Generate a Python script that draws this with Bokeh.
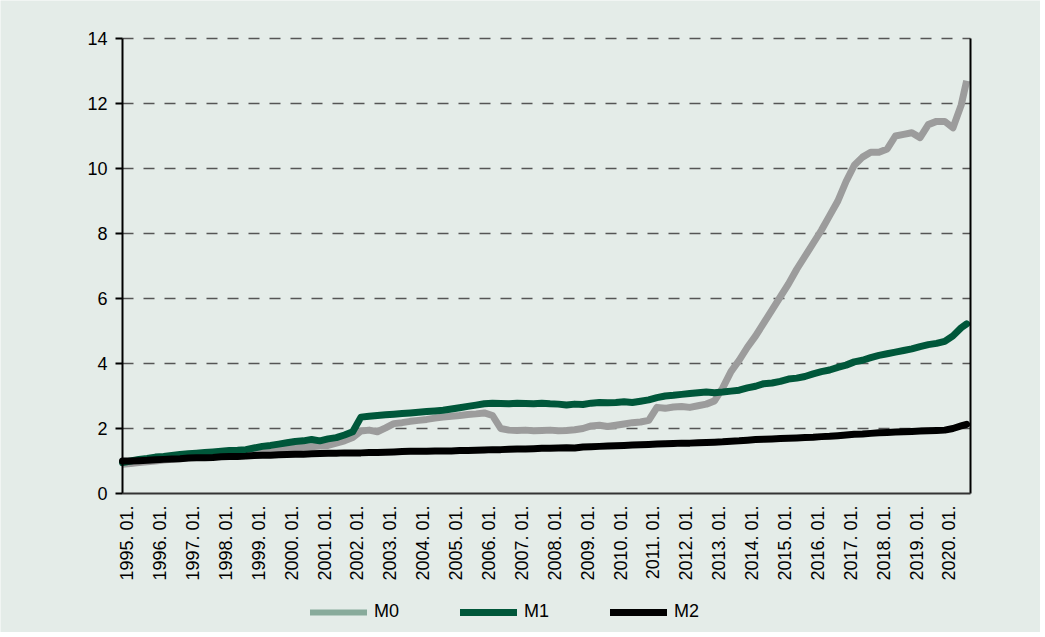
import math
from bokeh.plotting import figure
from bokeh.models import Range1d, Legend, LegendItem
from bokeh.core.properties import value
from bokeh.embed import file_html
from bokeh.resources import INLINE

# quarterly readings (Jan, Apr, Jul, Oct); the last one is 2020-09
years = list(range(1995, 2021))
months = [1, 4, 7, 10]
dates = [f"{y}-{m:02d}" for y in years for m in months][:-1] + ["2020-09"]

m0 = [
    0.90, 0.92, 0.95, 0.98,
    1.00, 1.03, 1.05, 1.08,
    1.10, 1.12, 1.14, 1.16,
    1.18, 1.20, 1.22, 1.24,
    1.27, 1.30, 1.33, 1.36,
    1.38, 1.40, 1.42, 1.44,
    1.46, 1.48, 1.55, 1.62,
    1.72, 1.92, 1.95, 1.90,
    2.02, 2.15, 2.18, 2.22,
    2.25, 2.28, 2.32, 2.35,
    2.38, 2.40, 2.43, 2.45,
    2.48, 2.40, 2.00, 1.95,
    1.94, 1.95, 1.93, 1.94,
    1.95, 1.93, 1.94, 1.96,
    2.00, 2.08, 2.10, 2.06,
    2.10, 2.14, 2.18, 2.20,
    2.25, 2.65, 2.62, 2.66,
    2.68, 2.65, 2.70, 2.75,
    2.85, 3.25, 3.75, 4.10,
    4.50, 4.85, 5.25, 5.65,
    6.05, 6.45, 6.90, 7.30,
    7.70, 8.10, 8.55, 9.00,
    9.60, 10.10, 10.35, 10.50,
    10.50, 10.60, 11.00, 11.05,
    11.10, 10.95, 11.35, 11.45,
    11.45, 11.25, 11.95, 12.70,
]

m1 = [
    0.95, 1.00, 1.05, 1.08,
    1.12, 1.14, 1.17, 1.20,
    1.22, 1.24, 1.26, 1.28,
    1.30, 1.32, 1.33, 1.35,
    1.40, 1.45, 1.48, 1.52,
    1.56, 1.60, 1.62, 1.66,
    1.62, 1.68, 1.72, 1.80,
    1.90, 2.35, 2.38, 2.40,
    2.42, 2.44, 2.46, 2.48,
    2.50, 2.52, 2.54, 2.56,
    2.60, 2.64, 2.68, 2.72,
    2.76, 2.78, 2.77, 2.76,
    2.78, 2.77, 2.76, 2.78,
    2.76, 2.75, 2.72, 2.75,
    2.74, 2.78, 2.80, 2.79,
    2.80, 2.82, 2.80, 2.84,
    2.88, 2.95, 3.00, 3.02,
    3.05, 3.08, 3.10, 3.12,
    3.10, 3.12, 3.15, 3.18,
    3.25, 3.30, 3.38, 3.40,
    3.45, 3.52, 3.55, 3.60,
    3.68, 3.75, 3.80, 3.88,
    3.95, 4.05, 4.10, 4.18,
    4.25, 4.30, 4.35, 4.40,
    4.45, 4.52, 4.58, 4.62,
    4.68, 4.85, 5.10, 5.22,
]

m2 = [
    1.00, 1.00, 1.01, 1.02,
    1.04, 1.05, 1.06, 1.07,
    1.09, 1.10, 1.10, 1.11,
    1.13, 1.14, 1.14, 1.15,
    1.17, 1.18, 1.18, 1.19,
    1.20, 1.21, 1.21, 1.22,
    1.23, 1.24, 1.24, 1.25,
    1.25, 1.25, 1.26, 1.26,
    1.27, 1.28, 1.29, 1.30,
    1.30, 1.30, 1.31, 1.31,
    1.31, 1.32, 1.32, 1.33,
    1.34, 1.35, 1.35, 1.36,
    1.37, 1.37, 1.38, 1.39,
    1.39, 1.40, 1.41, 1.40,
    1.43, 1.44, 1.45, 1.46,
    1.47, 1.48, 1.49, 1.50,
    1.51, 1.52, 1.53, 1.54,
    1.55, 1.55, 1.56, 1.57,
    1.58, 1.59, 1.61, 1.62,
    1.64, 1.66, 1.67, 1.68,
    1.69, 1.70, 1.71, 1.72,
    1.73, 1.75, 1.76, 1.78,
    1.80, 1.82, 1.83, 1.85,
    1.87, 1.88, 1.89, 1.90,
    1.91, 1.92, 1.93, 1.94,
    1.95, 2.00, 2.08, 2.13,
]

tick_labels = [f"{y}. 01." for y in years]
y_ticks = [0, 2, 4, 6, 8, 10, 12, 14]
y_labels = [str(v) for v in y_ticks]
series_names = ["M0", "M1", "M2"]

# x in months since 1995-01
x = [(int(d[:4]) - 1995) * 12 + int(d[5:]) - 1 for d in dates]
tick_pos = [(y - 1995) * 12 + 1 for y in years]
X_END = 309.4          # right edge of the chart area, in months
Y_TOP = 14

BG = "#e4ece8"
FONT = "Liberation Sans"

# page geometry (px); the plotting frame fills the whole canvas
W, H = 1040, 632
AX_LEFT, AX_RIGHT, AX_TOP, AX_ZERO = 122, 970, 38, 493
ppm = (AX_RIGHT - AX_LEFT) / X_END          # px per month
ppu = (AX_ZERO - AX_TOP) / Y_TOP            # px per value unit
x_start = -AX_LEFT / ppm
x_end = X_END + (W - AX_RIGHT) / ppm
y_start = -(H - AX_ZERO) / ppu
y_end = Y_TOP + AX_TOP / ppu

p = figure(width=W, height=H, output_backend="svg", toolbar_location=None,
           x_range=Range1d(x_start, x_end), y_range=Range1d(y_start, y_end),
           x_axis_location=None, y_axis_location=None,
           min_border_left=0, min_border_right=0,
           min_border_top=0, min_border_bottom=0,
           background_fill_color=BG, border_fill_color=BG,
           outline_line_color=None)
p.grid.visible = False

# dashed horizontal grid lines
grid_y = y_ticks[1:]
p.segment(x0=[0] * len(grid_y), x1=[X_END] * len(grid_y), y0=grid_y, y1=grid_y,
          line_color="#555555", line_width=1.5, line_dash="11 10")

r0 = p.line(x, m0, line_color="#9c9c9c", line_width=7, line_join="round")
r1 = p.line(x, m1, line_color="#00573a", line_width=7, line_join="round",
            line_cap="round")
r2 = p.line(x, m2, line_color="black", line_width=7, line_join="round",
            line_cap="round")
d0 = p.line([float("nan")], [float("nan")], line_color="#88ab9b", line_width=6,
            line_cap="round")

# axis lines: left, right, bottom
p.segment(x0=[0, X_END], x1=[0, X_END], y0=[0, 0], y1=[Y_TOP, Y_TOP],
          line_color="black", line_width=2)
p.segment(x0=[0], x1=[X_END], y0=[0], y1=[0], line_color="#333333",
          line_width=2)

# y tick marks and labels
tick_len = 7 / ppm
p.segment(x0=[-tick_len] * len(y_ticks), x1=[0] * len(y_ticks),
          y0=y_ticks, y1=y_ticks, line_color="black", line_width=2)
p.text(x=[0] * len(y_ticks), y=y_ticks, text=y_labels, x_offset=-15,
       text_align="right", text_baseline="middle", text_font=value(FONT),
       text_font_size="18px", text_color="black")

# date labels, rotated to read upwards
p.text(x=tick_pos, y=[0] * len(tick_pos), text=tick_labels,
       angle=math.pi / 2, text_align="right", text_baseline="middle",
       x_offset=2, y_offset=12, text_font=value(FONT),
       text_font_size="18px", text_color="black")

legend = Legend(items=[LegendItem(label=series_names[0], renderers=[d0]),
                       LegendItem(label=series_names[1], renderers=[r1]),
                       LegendItem(label=series_names[2], renderers=[r2])],
                orientation="horizontal", location=(310, 10),
                border_line_color=None, background_fill_alpha=0,
                label_text_font=FONT, label_text_font_size="18px",
                label_text_color="black", glyph_width=57, glyph_height=20,
                label_standoff=7, spacing=61, padding=0, margin=0)
p.add_layout(legend, "center")

open("out.html", "w").write(file_html(p, INLINE))
